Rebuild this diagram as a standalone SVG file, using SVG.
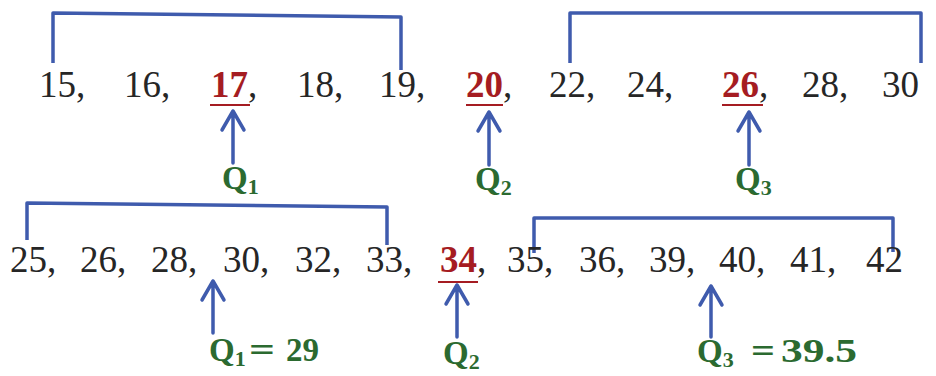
<svg xmlns="http://www.w3.org/2000/svg" width="936" height="376" viewBox="0 0 936 376">
  <defs>
    <style>
      .num { font-family: "Liberation Serif", "Times New Roman", serif; font-size: 37px; font-weight: normal; fill: #262626; }
      .med { font-family: "Liberation Serif", "Times New Roman", serif; font-size: 37px; font-weight: bold; fill: #a51c22; }
      .q { font-family: "Liberation Serif", "Times New Roman", serif; font-size: 33px; font-weight: bold; fill: #2b6a30; }
      .sub { font-size: 22px; }
      .brk { fill: none; stroke: #3f5bad; stroke-width: 3.5; stroke-linejoin: round; }
      .arr { fill: none; stroke: #3f5bad; stroke-width: 3.5; stroke-linecap: round; stroke-linejoin: round; }
      .ul { stroke: #a51c22; stroke-width: 2; }
    </style>
  </defs>
  <rect width="936" height="376" fill="#ffffff"/>

  <!-- brackets grouping each half -->
  <g id="brackets">
    <path class="brk" d="M53 63 L53 13 L401 17 L401 70"/>
    <path class="brk" d="M570 63 L570 13 L921 13 L921 63"/>
    <path class="brk" d="M27 240 L27 203 L387 207 L387 245"/>
    <path class="brk" d="M534 253 L534 218 L893 218 L893 252"/>
  </g>

  <!-- first data set: odd count -->
  <g id="row1">
    <text class="num" x="39" y="97">15,</text>
    <text class="num" x="124" y="97">16,</text>
    <text class="med" x="211" y="97">17<tspan class="num">,</tspan></text>
    <text class="num" x="297" y="97">18,</text>
    <text class="num" x="379" y="97">19,</text>
    <text class="med" x="466" y="97">20<tspan class="num">,</tspan></text>
    <text class="num" x="549" y="97">22,</text>
    <text class="num" x="627" y="97">24,</text>
    <text class="med" x="722" y="97">26<tspan class="num">,</tspan></text>
    <text class="num" x="802" y="97">28,</text>
    <text class="num" x="882" y="97">30</text>
    <line class="ul" x1="210" y1="105" x2="250" y2="105"/>
    <line class="ul" x1="466" y1="105" x2="503" y2="105"/>
    <line class="ul" x1="722" y1="105" x2="763" y2="105"/>
  </g>

  <!-- second data set: even count -->
  <g id="row2">
    <text class="num" x="10" y="272">25,</text>
    <text class="num" x="80" y="272">26,</text>
    <text class="num" x="151" y="272">28,</text>
    <text class="num" x="223" y="272">30,</text>
    <text class="num" x="295" y="272">32,</text>
    <text class="num" x="366" y="272">33,</text>
    <text class="med" x="440" y="272">34<tspan class="num">,</tspan></text>
    <text class="num" x="507" y="272">35,</text>
    <text class="num" x="579" y="272">36,</text>
    <text class="num" x="649" y="272">39,</text>
    <text class="num" x="719" y="272">40,</text>
    <text class="num" x="790" y="272">41,</text>
    <text class="num" x="866" y="272">42</text>
    <line class="ul" x1="438" y1="282" x2="478" y2="282"/>
  </g>

  <!-- quartile pointers -->
  <g id="connectors">
    <path class="arr" d="M233 163 L233 111 M222 130 L233 111 L244 130"/>
    <path class="arr" d="M489 165 L489 112 M478 131 L489 112 L500 131"/>
    <path class="arr" d="M749 165 L749 112 M738 131 L749 112 L760 131"/>
    <path class="arr" d="M213 333 L213 281 M202 300 L213 281 L224 300"/>
    <path class="arr" d="M457 337 L457 285 M446 304 L457 285 L468 304"/>
    <path class="arr" d="M711 337 L711 286 M700 305 L711 286 L722 305"/>
  </g>

  <g id="q1-top"><text class="q" x="222" y="189">Q<tspan class="sub" dy="5">1</tspan></text></g>
  <g id="q2-top"><text class="q" x="475" y="190">Q<tspan class="sub" dy="5">2</tspan></text></g>
  <g id="q3-top"><text class="q" x="735" y="190">Q<tspan class="sub" dy="5">3</tspan></text></g>
  <g id="q1-bottom">
    <text class="q" x="209" y="361">Q<tspan class="sub" dy="5">1</tspan></text>
    <text class="q" x="249" y="361" textLength="26" lengthAdjust="spacingAndGlyphs">=</text>
    <text class="q" x="286" y="361" textLength="33" lengthAdjust="spacingAndGlyphs">29</text>
  </g>
  <g id="q2-bottom"><text class="q" x="443" y="364">Q<tspan class="sub" dy="5">2</tspan></text></g>
  <g id="q3-bottom">
    <text class="q" x="697" y="362">Q<tspan class="sub" dy="5">3</tspan></text>
    <text class="q" x="751" y="362" textLength="24" lengthAdjust="spacingAndGlyphs">=</text>
    <text class="q" x="781" y="362" textLength="76" lengthAdjust="spacingAndGlyphs">39.5</text>
  </g>
</svg>
